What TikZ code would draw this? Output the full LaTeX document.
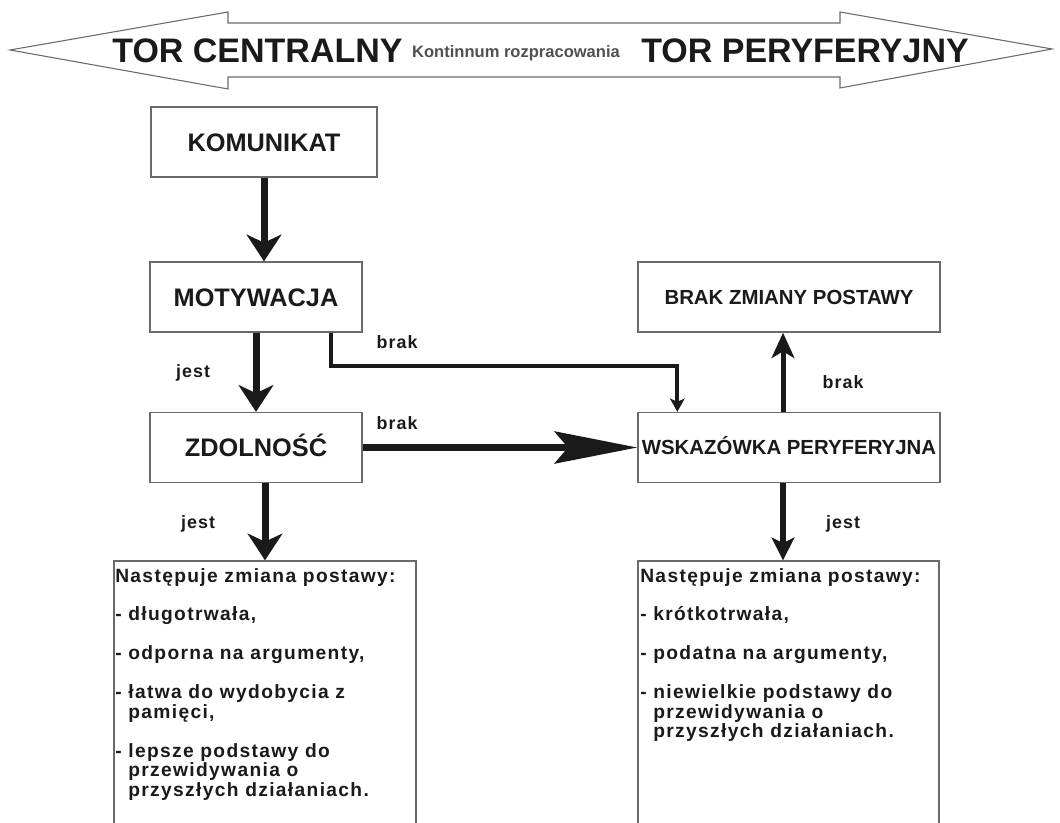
\documentclass[tikz,border=0pt]{standalone}
\usepackage{fontspec}
\setmainfont{Liberation Sans}
\newfontfamily\trackfont[LetterSpace=7]{Liberation Sans}
\newfontfamily\lbltrackfont[LetterSpace=6]{Liberation Sans}
\usetikzlibrary{arrows.meta,calc}
\definecolor{boxgray}{HTML}{6A6A6A}
\definecolor{ink}{HTML}{1A1A1A}
\definecolor{kontgray}{HTML}{505050}
\newcommand\myline[1]{\hbox{#1}}
\newcommand\bodytext{\trackfont\bfseries\fontsize{14.4}{14.6}\selectfont}
\newcommand\lbltext{\lbltrackfont\bfseries\fontsize{13.4}{16}\selectfont}
\begin{document}
\begin{tikzpicture}[x=0.75pt,y=-0.75pt,
  box/.style={draw=boxgray,line width=1pt,fill=white,inner sep=0pt,text=ink},
  bigbox/.style={box,minimum width=159pt,minimum height=52.5pt,
    font=\bfseries\fontsize{19}{22}\selectfont,text height=13.6pt,text depth=0pt},
  midbox/.style={box,minimum width=226.5pt,minimum height=52.5pt,
    font=\bfseries\fontsize{15.3}{18}\selectfont,text height=11pt,text depth=0pt},
  lowbox/.style={box,minimum height=201.75pt},
  tor/.style={inner sep=0pt,text=ink,font=\bfseries\fontsize{25.5}{30}\selectfont,anchor=base},
  lbl/.style={inner sep=0pt,text=ink,font=\lbltext,anchor=base},
  thickarrow/.style={draw=ink,line width=5.25pt,-{Stealth[length=20pt,width=26pt,inset=6pt]}},
]
\useasboundingbox (0,0) rectangle (1060,823);

% top double arrow
\draw[draw=boxgray,line width=0.8pt,fill=white,line join=miter]
  (10,50) -- (228,12) -- (228,23) -- (840,23) -- (840,12) -- (1052,49)
  -- (840,88) -- (840,77) -- (228,77) -- (228,89) -- cycle;
\node[tor] (tc) at (257.5,63) {TOR CENTRALNY};
\node[tor] (tp) at (805,63) {TOR PERYFERYJNY};
\node[inner sep=0pt,anchor=base,text=kontgray,font=\bfseries\fontsize{12.4}{15}\selectfont] (kont) at (516,58) {Kontinnum rozpracowania};

% boxes
\node[bigbox,minimum width=169.5pt] (kom) at (264,142) {KOMUNIKAT};
\node[bigbox] (mot) at (256,297) {MOTYWACJA};
\node[bigbox] (zdol) at (256,447.5) {ZDOLNOŚĆ};
\node[midbox] (brak) at (789,297) {BRAK ZMIANY POSTAWY};
\node[midbox] (wsk) at (789,447.5) {WSKAZÓWKA PERYFERYJNA};
\node[lowbox,minimum width=226.5pt] (lb) at (265,695.5) {};
\node[lowbox,minimum width=225.75pt] (rb) at (788.5,695.5) {};

% box texts
\node[inner sep=0pt,anchor=base west,text=ink] (lbtext) at (115,582) {\bodytext\vtop{%
\myline{Następuje zmiana postawy:}\myline{}%
\myline{- długotrwała,}\myline{}%
\myline{- odporna na argumenty,}\myline{}%
\myline{- łatwa do wydobycia z}%
\myline{\phantom{- }pamięci,}\myline{}%
\myline{- lepsze podstawy do}%
\myline{\phantom{- }przewidywania o}%
\myline{\phantom{- }przyszłych działaniach.}}};
\node[inner sep=0pt,anchor=base west,text=ink] (rbtext) at (640,582) {\bodytext\vtop{%
\myline{Następuje zmiana postawy:}\myline{}%
\myline{- krótkotrwała,}\myline{}%
\myline{- podatna na argumenty,}\myline{}%
\myline{- niewielkie podstawy do}%
\myline{\phantom{- }przewidywania o}%
\myline{\phantom{- }przyszłych działaniach.}}};

% connectors
\draw[thickarrow] (kom.south) -- (kom.south |- mot.north);
\draw[thickarrow] (mot.south) -- (zdol.north);
\draw[thickarrow] (zdol.south -| lb.north) -- (lb.north);
\draw[draw=ink,line width=4.9pt,-{Stealth[length=62pt,width=24pt,inset=10pt]}] (zdol.east) -- (wsk.west);
\coordinate (motout) at ($(mot.south east)+(-32,0)$);
\coordinate (wskin) at ($(wsk.north west)+(40,0)$);
\draw[draw=ink,line width=3pt,line join=miter,-{Stealth[length=10pt,width=11pt,inset=2.5pt]}]
  (motout) |- ($(wskin)+(0,-46)$) -- (wskin);
\coordinate (wskup) at ($(wsk.north)+(-6,0)$);
\draw[draw=ink,line width=3.75pt,-{Stealth[length=19pt,width=17pt,inset=5pt]}] (wskup) -- (wskup |- brak.south);
\coordinate (wskdown) at ($(wsk.south)+(-6,0)$);
\draw[draw=ink,line width=4.2pt,-{Stealth[length=17pt,width=17pt,inset=4pt]}] (wskdown) -- (wskdown |- rb.north);

% labels
\node[lbl] (jest1) at (193,378) {jest};
\node[lbl] (brak1) at (397,349) {brak};
\node[lbl] (brak2) at (397,429) {brak};
\node[lbl] (brak3) at (843,388) {brak};
\node[lbl] (jest2) at (198,528) {jest};
\node[lbl] (jest3) at (843,528) {jest};
\end{tikzpicture}
\end{document}
